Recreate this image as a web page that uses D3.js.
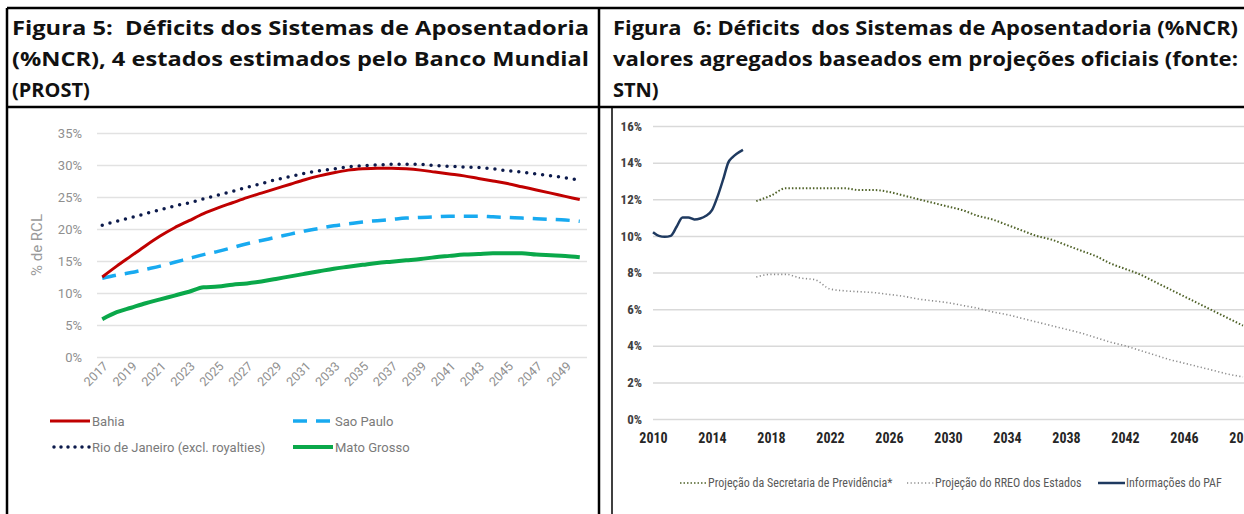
<!DOCTYPE html>
<html>
<head>
<meta charset="utf-8">
<script src="https://cdn.jsdelivr.net/npm/d3@7"></script>
<style>
	body { margin: 0; background: #fff; }
	svg { display: block; }
	text.title { white-space: pre; }
</style>
</head>
<body>
<div class="container"></div>
<script>
// figura 5 - PROST (Banco Mundial)
var prostYears = [2017, 2018, 2019, 2020, 2021, 2022, 2023, 2024, 2025, 2026, 2027, 2028,
	2029, 2030, 2031, 2032, 2033, 2034, 2035, 2036, 2037, 2038, 2039, 2040, 2041, 2042,
	2043, 2044, 2045, 2046, 2047, 2048, 2049, 2050];
var bahia = [12.5, 14.2, 15.8, 17.4, 18.9, 20.2, 21.3, 22.4, 23.3, 24.1, 24.9, 25.6,
	26.3, 27.0, 27.7, 28.3, 28.8, 29.2, 29.4, 29.5, 29.5, 29.4, 29.2, 28.9, 28.6, 28.3,
	27.9, 27.5, 27.1, 26.6, 26.1, 25.6, 25.1, 24.6];
var saoPaulo = [12.3, 12.8, 13.2, 13.7, 14.2, 14.8, 15.4, 16.0, 16.5, 17.1, 17.7, 18.2,
	18.7, 19.2, 19.7, 20.1, 20.5, 20.8, 21.1, 21.3, 21.5, 21.7, 21.8, 21.9, 22.0, 22.0,
	22.0, 21.9, 21.8, 21.7, 21.6, 21.5, 21.4, 21.2];
var rioDeJaneiro = [20.6, 21.2, 21.8, 22.4, 23.0, 23.6, 24.1, 24.7, 25.3, 25.9, 26.5, 27.1,
	27.7, 28.2, 28.7, 29.1, 29.4, 29.7, 29.9, 30.0, 30.1, 30.1, 30.1, 29.9, 29.8, 29.7,
	29.6, 29.4, 29.1, 28.9, 28.6, 28.3, 28.0, 27.6];
var matoGrosso = [5.9, 7.0, 7.7, 8.4, 9.0, 9.6, 10.2, 10.9, 11.0, 11.3, 11.5, 11.8,
	12.2, 12.6, 13.0, 13.4, 13.8, 14.1, 14.4, 14.7, 14.9, 15.1, 15.3, 15.6, 15.8, 16.0,
	16.1, 16.2, 16.2, 16.2, 16.0, 15.9, 15.8, 15.6];
var prostYTicks = [0, 5, 10, 15, 20, 25, 30, 35];
var prostXLabels = [2017, 2019, 2021, 2023, 2025, 2027, 2029, 2031, 2033, 2035, 2037,
	2039, 2041, 2043, 2045, 2047, 2049];

// figura 6 - STN
var pafYears = [2010.0, 2010.4, 2010.8, 2011.2, 2011.6, 2012.0, 2012.4, 2012.8, 2013.2,
	2013.6, 2014.0, 2014.4, 2014.8, 2015.1, 2015.4, 2015.7, 2016.1];
var pafValues = [10.2, 10.0, 9.95, 10.0, 10.5, 11.0, 11.0, 10.9, 10.95,
	11.1, 11.4, 12.2, 13.2, 14.0, 14.3, 14.5, 14.7];
var projYears = [2017, 2018, 2019, 2020, 2021, 2022, 2023, 2024, 2025, 2026, 2027, 2028,
	2029, 2030, 2031, 2032, 2033, 2034, 2035, 2036, 2037, 2038, 2039, 2040, 2041, 2042,
	2043, 2044, 2045, 2046, 2047, 2048, 2049, 2050];
var secretaria = [11.9, 12.2, 12.6, 12.6, 12.6, 12.6, 12.6, 12.5, 12.5, 12.4, 12.2, 12.0,
	11.8, 11.6, 11.4, 11.1, 10.9, 10.6, 10.3, 10.0, 9.8, 9.5, 9.2, 8.9, 8.5, 8.2,
	7.9, 7.5, 7.1, 6.7, 6.3, 5.9, 5.5, 5.1];
var rreo = [7.75, 7.9, 7.9, 7.7, 7.6, 7.1, 7.0, 6.95, 6.9, 6.8, 6.7, 6.55,
	6.45, 6.35, 6.2, 6.05, 5.85, 5.7, 5.5, 5.3, 5.1, 4.9, 4.7, 4.45, 4.2, 4.0,
	3.75, 3.5, 3.25, 3.05, 2.85, 2.65, 2.45, 2.3];
var stnYTicks = [0, 2, 4, 6, 8, 10, 12, 14, 16];
var stnXTicks = [2010, 2014, 2018, 2022, 2026, 2030, 2034, 2038, 2042, 2046, 2050];

const WIDTH = 1244;
const HEIGHT = 514;

var svg = d3.select('.container').append('svg')
	.attr('width', WIDTH)
	.attr('height', HEIGHT);

// ---- titles (table header) ----
var TITLE_FONT = '"Open Sans", "Noto Sans", sans-serif';
var titles = [
	{text: 'Figura 5:  Déficits dos Sistemas de Aposentadoria', x: 12, y: 35, w: 577},
	{text: '(%NCR), 4 estados estimados pelo Banco Mundial', x: 12, y: 66, w: 577},
	{text: '(PROST)', x: 12, y: 97, w: null},
	{text: 'Figura  6: Déficits  dos Sistemas de Aposentadoria (%NCR)', x: 613, y: 35, w: 625},
	{text: 'valores agregados baseados em projeções oficiais (fonte:', x: 613, y: 66, w: 625},
	{text: 'STN)', x: 613, y: 97, w: null}
];
titles.forEach(function(t){
	var el = svg.append('text')
		.attr('class', 'title')
		.attr('x', t.x)
		.attr('y', t.y)
		.style('font-family', TITLE_FONT)
		.style('font-size', '20px')
		.style('font-weight', 'bold')
		.attr('fill', '#111')
		.text(t.text);
	if (t.w) el.attr('textLength', t.w).attr('lengthAdjust', 'spacingAndGlyphs');
});

// ---- figura 5 ----
var LFONT = 'Roboto, "Open Sans", sans-serif';
var xL = d3.scalePoint()
	.domain(prostYears)
	.range([95, 587])
	.padding(0.5);
var yL = d3.scaleLinear()
	.domain([0, 35])
	.range([357, 133]);

var yAxisL = d3.axisLeft(yL)
	.tickValues(prostYTicks)
	.tickFormat(function(d){ return d + '%'; })
	.tickSize(-(587 - 97))
	.tickPadding(15);
var gyL = svg.append('g')
	.attr('transform', 'translate(97,0)')
	.call(yAxisL);
gyL.select('.domain').remove();
gyL.selectAll('line').attr('stroke', '#e2e2e2').attr('stroke-width', 1.5);
gyL.selectAll('text').attr('fill', '#8f8f8f').style('font-family', LFONT).style('font-size', '13px');

var xAxisL = d3.axisBottom(xL)
	.tickValues(prostXLabels)
	.tickSize(0)
	.tickPadding(0);
var gxL = svg.append('g')
	.attr('transform', 'translate(3,364)')
	.call(xAxisL);
gxL.select('.domain').remove();
gxL.selectAll('text')
	.attr('y', 0)
	.attr('dy', '0.35em')
	.attr('transform', 'rotate(-45)')
	.style('text-anchor', 'end')
	.attr('fill', '#8f8f8f')
	.style('font-family', LFONT)
	.style('font-size', '12.5px');

svg.append('text')
	.attr('transform', 'translate(42,245) rotate(-90)')
	.style('text-anchor', 'middle')
	.style('font-family', LFONT)
	.style('font-size', '15px')
	.attr('fill', '#9a9a9a')
	.text('% de RCL');

var prostSeries = [
	{name: 'Bahia', values: bahia, color: '#c00000', width: 3, dash: null},
	{name: 'Sao Paulo', values: saoPaulo, color: '#18aaf0', width: 3.5, dash: '14,9'},
	{name: 'Rio de Janeiro (excl. royalties)', values: rioDeJaneiro, color: '#0c1a4b', width: 3.5, dash: '0,8'},
	{name: 'Mato Grosso', values: matoGrosso, color: '#0aa84a', width: 4, dash: null}
];
var lineL = d3.line()
	.x(function(d, i){ return xL(prostYears[i]); })
	.y(function(d){ return yL(d); })
	.curve(d3.curveMonotoneX);

// draw order: dotted under, red on top
[prostSeries[3], prostSeries[1], prostSeries[2], prostSeries[0]].forEach(function(s){
	svg.append('path')
		.attr('d', lineL(s.values))
		.attr('fill', 'none')
		.attr('stroke', s.color)
		.attr('stroke-width', s.width)
		.attr('stroke-dasharray', s.dash)
		.attr('stroke-linecap', s.dash === '0,8' ? 'round' : 'butt');
});

var legendL = [
	{s: prostSeries[0], x: 50, y: 421},
	{s: prostSeries[1], x: 293, y: 421},
	{s: prostSeries[2], x: 54, y: 447},
	{s: prostSeries[3], x: 293, y: 447}
];
legendL.forEach(function(l){
	var len = l.s.dash === '0,8' ? 36 : 40;
	svg.append('line')
		.attr('x1', l.x).attr('x2', l.x + len)
		.attr('y1', l.y).attr('y2', l.y)
		.attr('stroke', l.s.color)
		.attr('stroke-width', l.s.width)
		.attr('stroke-dasharray', l.s.dash === '0,8' ? '0,7' : l.s.dash)
		.attr('stroke-linecap', l.s.dash === '0,8' ? 'round' : 'butt');
	svg.append('text')
		.attr('x', l.x + len + 2)
		.attr('y', l.y)
		.attr('dy', '0.35em')
		.style('font-family', LFONT)
		.style('font-size', '13px')
		.attr('fill', '#7a7a7a')
		.text(l.s.name);
});

// ---- figura 6 ----
var RFONT = '"Liberation Sans Narrow", "Roboto Condensed", "Arial Narrow", sans-serif';
var xR = d3.scaleLinear()
	.domain([2010, 2050])
	.range([653, 1243]);
var yR = d3.scaleLinear()
	.domain([0, 16])
	.range([419, 126]);

var yAxisR = d3.axisLeft(yR)
	.tickValues(stnYTicks)
	.tickFormat(function(d){ return d + '%'; })
	.tickSize(-(WIDTH - 653))
	.tickPadding(11);
var gyR = svg.append('g')
	.attr('transform', 'translate(653,0)')
	.call(yAxisR);
gyR.select('.domain').remove();
gyR.selectAll('line').attr('stroke', '#d9d9d9').attr('stroke-width', 1.5);
gyR.selectAll('text').attr('fill', '#404040').style('font-family', RFONT)
	.style('font-size', '13px').style('font-weight', 'bold');

var xAxisR = d3.axisBottom(xR)
	.tickValues(stnXTicks)
	.tickFormat(d3.format('d'))
	.tickSize(0)
	.tickPadding(14);
var gxR = svg.append('g')
	.attr('transform', 'translate(0,419)')
	.call(xAxisR);
gxR.select('.domain').remove();
gxR.selectAll('text').attr('fill', '#262626').style('font-family', RFONT)
	.style('font-size', '14px').style('font-weight', 'bold');

var lineR = d3.line()
	.x(function(d){ return xR(d[0]); })
	.y(function(d){ return yR(d[1]); })
	.curve(d3.curveMonotoneX);

svg.append('path')
	.attr('d', lineR(d3.zip(projYears, rreo)))
	.attr('fill', 'none')
	.attr('stroke', '#8c8c8c')
	.attr('stroke-width', 1.6)
	.attr('stroke-dasharray', '1.2,2.4');
svg.append('path')
	.attr('d', lineR(d3.zip(projYears, secretaria)))
	.attr('fill', 'none')
	.attr('stroke', '#4f6228')
	.attr('stroke-width', 2)
	.attr('stroke-dasharray', '1.5,2');
svg.append('path')
	.attr('d', lineR(d3.zip(pafYears, pafValues)))
	.attr('fill', 'none')
	.attr('stroke', '#1f3a60')
	.attr('stroke-width', 2.5);

var legendR = [
	{name: 'Projeção da Secretaria de Previdência*', x: 680, color: '#4f6228', w: 1.6, dash: '1.5,2'},
	{name: 'Projeção do RREO dos Estados', x: 907, color: '#8c8c8c', w: 1.4, dash: '1.2,2.4'},
	{name: 'Informações do PAF', x: 1098, color: '#1f3a60', w: 2.5, dash: null}
];
legendR.forEach(function(l){
	svg.append('line')
		.attr('x1', l.x).attr('x2', l.x + 27)
		.attr('y1', 483).attr('y2', 483)
		.attr('stroke', l.color)
		.attr('stroke-width', l.w)
		.attr('stroke-dasharray', l.dash);
	svg.append('text')
		.attr('x', l.x + 28)
		.attr('y', 483)
		.attr('dy', '0.35em')
		.style('font-family', RFONT)
		.style('font-size', '12px')
		.attr('fill', '#595959')
		.text(l.name);
});

// ---- table borders ----
var borders = [
	[7, 8, WIDTH, 8],
	[7, 107, WIDTH, 107],
	[7, 8, 7, HEIGHT],
	[599, 8, 599, HEIGHT],
	[612, 107, 612, HEIGHT]
];
svg.selectAll('line.border').data(borders)
	.enter().append('line')
	.attr('class', 'border')
	.attr('x1', function(b){ return b[0]; })
	.attr('y1', function(b){ return b[1]; })
	.attr('x2', function(b){ return b[2]; })
	.attr('y2', function(b){ return b[3]; })
	.attr('stroke', '#000')
	.attr('stroke-width', function(b, i){ return i === 4 ? 1.5 : 2.5; });
</script>
</body>
</html>
